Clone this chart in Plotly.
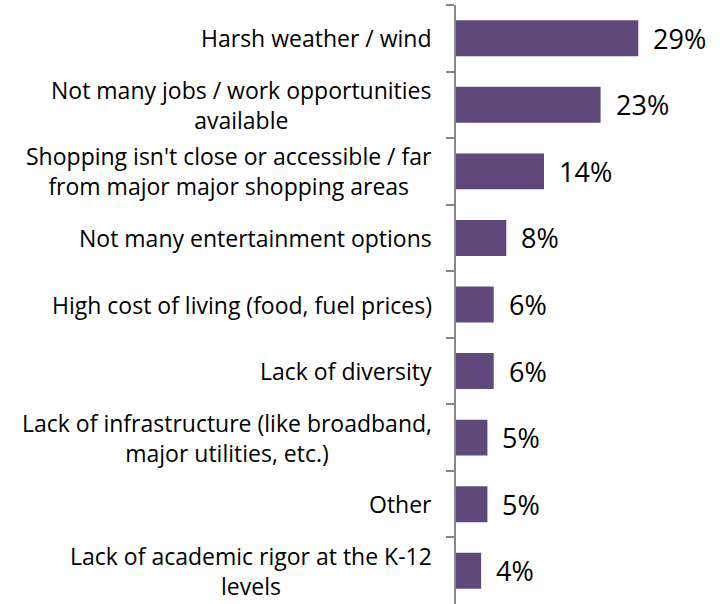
import plotly.graph_objects as go

categories = [
    "Harsh weather / wind",
    "Not many jobs / work opportunities<br>available",
    "Shopping isn't close or accessible / far<br>from major major shopping areas",
    "Not many entertainment options",
    "High cost of living (food, fuel prices)",
    "Lack of diversity",
    "Lack of infrastructure (like broadband,<br>major utilities, etc.)",
    "Other",
    "Lack of academic rigor at the K-12<br>levels",
]
values = [29, 23, 14, 8, 6, 6, 5, 5, 4]
value_labels = ["29%", "23%", "14%", "8%", "6%", "6%", "5%", "5%", "4%"]

BAR_COLOR = "#5F497A"
FONT = "Open Sans"

fig = go.Figure()
fig.add_trace(go.Bar(
    x=values, y=categories, orientation="h",
    marker=dict(color=BAR_COLOR, line=dict(width=0)),
    width=0.54, hoverinfo="skip",
))

annotations = []
for c, v, t in zip(categories, values, value_labels):
    annotations.append(dict(
        x=v, y=c, xref="x", yref="y", text=t, showarrow=False,
        xanchor="left", yanchor="middle", xshift=13,
        font=dict(family=FONT, size=27, color="#000000"),
    ))
    annotations.append(dict(
        x=0, y=c, xref="paper", yref="y", text=c, showarrow=False,
        xanchor="right", yanchor="middle", xshift=-22, align="center",
        font=dict(family=FONT, size=23, color="#000000"),
    ))

fig.update_layout(
    width=720, height=604,
    margin=dict(l=456, r=0, t=5, b=0),
    paper_bgcolor="white", plot_bgcolor="white",
    showlegend=False,
    annotations=annotations,
    xaxis=dict(range=[0, 42], visible=False, fixedrange=True),
    yaxis=dict(
        autorange="reversed", showticklabels=False,
        showline=True, linecolor="#868686", linewidth=1.5,
        ticks="outside", tickson="boundaries", ticklen=8,
        tickcolor="#868686", tickwidth=1.5, showgrid=False,
    ),
)

fig.write_html("out.html")
